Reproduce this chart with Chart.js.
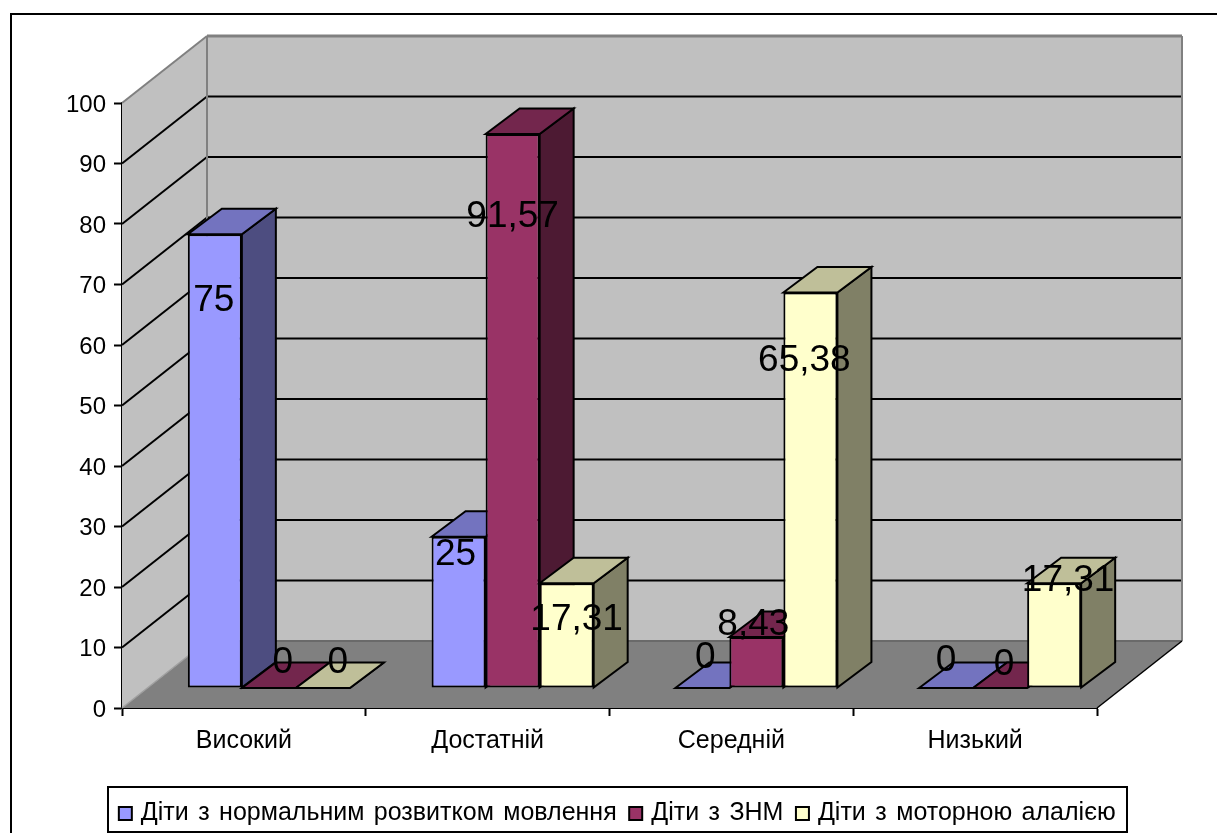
<!DOCTYPE html>
<html lang="uk">
<head>
<meta charset="utf-8">
<title>Рівні розвитку мовлення</title>
<script src="https://cdn.jsdelivr.net/npm/chart.js@4/dist/chart.umd.min.js"></script>
<style>
  html, body { margin: 0; padding: 0; background: #fff; }
  canvas { display: block; }
</style>
</head>
<body>
<canvas id="chart" width="1217" height="833"></canvas>
<script>
// Chart content
const categories = ['Високий', 'Достатній', 'Середній', 'Низький'];
const seriesNames = ['Діти з нормальним розвитком мовлення', 'Діти з ЗНМ', 'Діти з моторною алалією'];
const normalSpeech = [75, 25, 0, 0];
const speechDisorder = [0, 91.57, 8.43, 0];
const motorAlalia = [0, 17.31, 65.38, 17.31];

// Face colours per series: front, top, side
const frontColors = ['#9999ff', '#993366', '#ffffcc'];
const topColors = ['#7373bf', '#73264d', '#bfbf99'];
const sideColors = ['#4d4d80', '#4d1a33', '#808066'];

// Oblique projection, in pixels
const WALL_DX = 85, WALL_DY = 67;       // front plane to back wall
const BAR_DX = 25, BAR_LIFT = 20;       // front plane to bar fronts
const DEPTH_DX = 34, DEPTH_DY = 25.5;   // depth of a single bar
const LABEL_FONT = '37px "Liberation Sans"';

// Hand placement of the value labels relative to each bar's top edge, [dx, dy]
const labelNudge = [
  [[-1, 64], [-3, 16], [3, -33], [0, -30]],
  [[14, -28], [0, 80], [-3, -15], [4, -26]],
  [[15, -28], [10, 34], [-6, 66], [14, -5]]
];

function poly(ctx, pts, fill, stroke, width) {
  ctx.beginPath();
  pts.forEach((p, i) => (i ? ctx.lineTo(p[0], p[1]) : ctx.moveTo(p[0], p[1])));
  ctx.closePath();
  if (fill) { ctx.fillStyle = fill; ctx.fill(); }
  if (stroke) { ctx.strokeStyle = stroke; ctx.lineWidth = width; ctx.stroke(); }
}

function seg(ctx, x0, y0, x1, y1, color, width) {
  ctx.beginPath();
  ctx.moveTo(x0, y0);
  ctx.lineTo(x1, y1);
  ctx.strokeStyle = color;
  ctx.lineWidth = width;
  ctx.stroke();
}

function drawRoom(chart) {
  const { ctx, scales: { x, y } } = chart;
  const left = x.left, right = x.right;
  const y0 = y.getPixelForValue(0), yMax = y.getPixelForValue(100);
  ctx.save();
  poly(ctx, [[left, yMax], [left + WALL_DX, yMax - WALL_DY], [left + WALL_DX, y0 - WALL_DY], [left, y0]], '#c0c0c0');
  poly(ctx, [[left + WALL_DX, yMax - WALL_DY], [right + WALL_DX, yMax - WALL_DY], [right + WALL_DX, y0 - WALL_DY], [left + WALL_DX, y0 - WALL_DY]], '#c0c0c0');
  poly(ctx, [[left, y0], [left + WALL_DX, y0 - WALL_DY], [right + WALL_DX, y0 - WALL_DY], [right, y0]], '#808080');
  y.ticks.forEach(t => {
    if (t.value <= 0 || t.value >= 100) return;
    const py = y.getPixelForValue(t.value);
    seg(ctx, left, py, left + WALL_DX, py - WALL_DY, '#000', 2);
    seg(ctx, left + WALL_DX, py - WALL_DY, right + WALL_DX, py - WALL_DY, '#000', 2);
  });
  const grey = '#808080';
  seg(ctx, left, yMax, left + WALL_DX, yMax - WALL_DY, grey, 2);
  seg(ctx, left + WALL_DX, yMax - WALL_DY, right + WALL_DX, yMax - WALL_DY, grey, 3);
  seg(ctx, left + WALL_DX, yMax - WALL_DY, left + WALL_DX, y0 - WALL_DY, grey, 2);
  seg(ctx, right + WALL_DX, yMax - WALL_DY, right + WALL_DX, y0 - WALL_DY, grey, 2);
  seg(ctx, left + WALL_DX, y0 - WALL_DY, right + WALL_DX, y0 - WALL_DY, '#6a6a6a', 2);
  seg(ctx, left, y0, left + WALL_DX, y0 - WALL_DY, '#a0a0a0', 1.5);
  seg(ctx, right, y0, right + WALL_DX, y0 - WALL_DY, '#000', 1.5);
  ctx.restore();
}

// Series go back to front, left to right: top and side first, then the library's bars
function drawBars(chart) {
  const { ctx } = chart;
  chart.data.datasets.forEach((ds, i) => {
    const meta = chart.getDatasetMeta(i);
    ctx.save();
    ctx.translate(BAR_DX, -BAR_LIFT);
    meta.data.forEach(bar => {
      const { x, y, base, width } = bar.getProps(['x', 'y', 'base', 'width'], true);
      const l = x - width / 2, r = x + width / 2;
      poly(ctx, [[r, y], [r + DEPTH_DX, y - DEPTH_DY], [r + DEPTH_DX, base - DEPTH_DY], [r, base]], sideColors[i], '#000', 2);
      poly(ctx, [[l, y], [l + DEPTH_DX, y - DEPTH_DY], [r + DEPTH_DX, y - DEPTH_DY], [r, y]], topColors[i], '#000', 2);
    });
    meta.controller.draw();
    ctx.restore();
  });
}

function drawValueLabels(chart) {
  const { ctx } = chart;
  ctx.save();
  ctx.font = LABEL_FONT;
  ctx.fillStyle = '#000';
  ctx.textAlign = 'center';
  ctx.textBaseline = 'middle';
  chart.data.datasets.forEach((ds, s) => {
    chart.getDatasetMeta(s).data.forEach((bar, c) => {
      const [dx, dy] = labelNudge[s][c];
      const text = String(ds.data[c]).replace('.', ',');
      ctx.fillText(text, bar.x + BAR_DX + dx, bar.y - BAR_LIFT + dy + 2.5);
    });
  });
  ctx.restore();
}

const roomPlugin = {
  id: 'room',
  // Wider gaps between words in the legend
  beforeUpdate(chart) {
    chart.ctx.wordSpacing = '2.5px';
  },
  beforeDatasetsDraw(chart) {
    drawRoom(chart);
    drawBars(chart);
    drawValueLabels(chart);
    return false;
  },
  // Outer frame and legend frame
  afterDraw(chart) {
    const { ctx, width, height } = chart;
    ctx.save();
    ctx.strokeStyle = '#000';
    ctx.lineWidth = 2;
    ctx.beginPath();
    ctx.moveTo(11, height + 2);
    ctx.lineTo(11, 14);
    ctx.lineTo(width + 2, 14);
    ctx.stroke();
    ctx.strokeRect(108, 787, 1019, 45);
    ctx.restore();
  }
};

const makeSeries = (values, s) => ({
  label: seriesNames[s],
  data: values,
  backgroundColor: frontColors[s],
  borderColor: '#000',
  borderWidth: 2,
  borderSkipped: false,
  pointStyle: 'rect'
});

new Chart(document.getElementById('chart'), {
  type: 'bar',
  data: {
    labels: categories,
    datasets: [normalSpeech, speechDisorder, motorAlalia].map(makeSeries)
  },
  plugins: [roomPlugin],
  options: {
    responsive: false,
    animation: false,
    events: [],
    layout: { padding: { left: 21, right: 0, top: 103, bottom: -3 } },
    datasets: { bar: { categoryPercentage: 0.665, barPercentage: 1 } },
    scales: {
      x: {
        grid: { offset: true, drawOnChartArea: false, color: '#000', tickColor: '#000', tickLength: 8, tickWidth: 2 },
        border: { color: '#000', width: 2 },
        ticks: { color: '#000', font: { family: '"Liberation Sans"', size: 25 }, padding: 10.5, maxRotation: 0 },
        afterFit(s) { s.height = 77; }
      },
      y: {
        min: 0,
        max: 100,
        grid: { drawOnChartArea: false, color: '#000', tickColor: '#000', tickLength: 8, tickWidth: 2 },
        border: { color: '#000', width: 2 },
        ticks: { stepSize: 10, color: '#000', font: { family: '"Liberation Sans"', size: 24 }, padding: 8, labelOffset: 2 },
        afterFit(s) { s.width = 101; }
      },
      // Empty axis reserving the margin to the right of the floor
      margin: {
        type: 'linear',
        position: 'right',
        display: true,
        grid: { display: false },
        border: { display: false },
        ticks: { display: false },
        afterFit(s) { s.width = 120; }
      }
    },
    plugins: {
      title: { display: false },
      tooltip: { enabled: false },
      legend: {
        position: 'bottom',
        labels: {
          color: '#000',
          usePointStyle: true,
          boxWidth: 6,
          boxHeight: 13,
          padding: 16,
          font: { family: '"Liberation Sans"', size: 25 }
        }
      }
    }
  }
});
</script>
</body>
</html>
